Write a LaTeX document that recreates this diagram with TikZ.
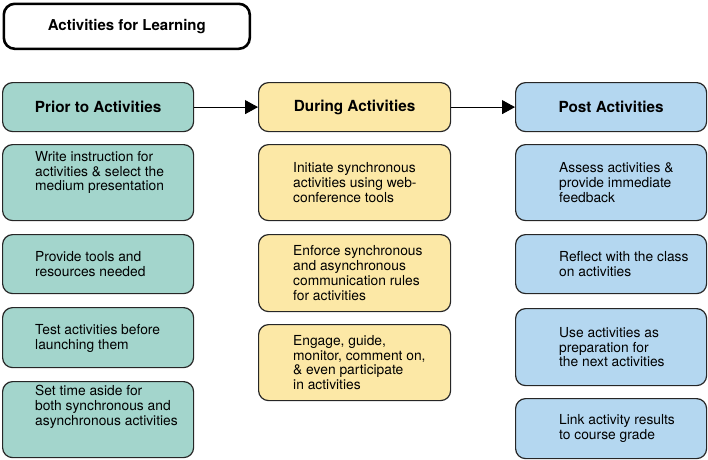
\documentclass[tikz,border=0pt]{standalone}
\usepackage{fontspec}
\setmainfont{TeX Gyre Heros}
\usetikzlibrary{arrows.meta}
\definecolor{tealc}{HTML}{A3D5CC}
\definecolor{yelc}{HTML}{FCE8A6}
\definecolor{bluec}{HTML}{B4D7F0}
\definecolor{edgec}{HTML}{262626}
\tikzset{
  cellbox/.style={draw=edgec, line width=1.2pt, rounded corners=10pt, inner sep=0pt, anchor=north west},
  headtxt/.style={font=\fontsize{15.3}{17}\selectfont\bfseries, text=black},
  bodytxt/.style={font=\fontsize{13.8}{14.8}\selectfont, align=left, inner sep=0pt, anchor=west, text=black},
  flow/.style={line width=0.9pt, -{Triangle[length=13pt,width=14pt]}},
}
\newcommand{\cell}[6]{% name, fill, x0, y0, x1, y1
  \node[cellbox, fill=#2, minimum width=#5pt-#3pt, minimum height=#6pt-#4pt] (#1) at (#3pt,-#4pt) {};}
\begin{document}
\begin{tikzpicture}[x=1pt,y=1pt]
\useasboundingbox (0,0) rectangle (708,-459);
% title
\node[draw=black, line width=2.6pt, rounded corners=11pt, minimum width=246pt, minimum height=45pt, anchor=north west, fill=white] (title) at (2.5,-2.5) {};
\node[headtxt, font=\fontsize{15}{17}\selectfont\bfseries] (titlet) at (title.center) {Activities for Learning};
% columns
\cell{p0}{tealc}{2}{82}{193}{131}
\cell{p1}{tealc}{2}{144}{193}{220}
\cell{p2}{tealc}{2}{234}{193}{293}
\cell{p3}{tealc}{2}{307}{193}{367}
\cell{p4}{tealc}{2}{381}{193}{457}
\cell{d0}{yelc}{258}{82}{450}{131}
\cell{d1}{yelc}{258}{144}{450}{220}
\cell{d2}{yelc}{258}{234}{450}{311}
\cell{d3}{yelc}{258}{324}{450}{400}
\cell{q0}{bluec}{515}{82}{706}{131}
\cell{q1}{bluec}{515}{144}{706}{220}
\cell{q2}{bluec}{515}{234}{706}{293}
\cell{q3}{bluec}{515}{308}{706}{385}
\cell{q4}{bluec}{515}{398}{706}{458}
% headers
\node[headtxt] (p0t) at (p0.center) {Prior to Activities};
\node[headtxt] (d0t) at (d0.center) {During Activities};
\node[headtxt] (q0t) at (q0.center) {Post Activities};
% body texts
\node[bodytxt] (p1t) at ([xshift=33pt,yshift=10pt]p1.west) {Write instruction for\\activities \& select the\\medium presentation};
\node[bodytxt] (p2t) at ([xshift=33pt]p2.west) {Provide tools and\\resources needed};
\node[bodytxt] (p3t) at ([xshift=33pt,yshift=-1pt]p3.west) {Test activities before\\launching them};
\node[bodytxt] (p4t) at ([xshift=33pt,yshift=13pt]p4.west) {Set time aside for\\both synchronous and\\asynchronous activities};
\node[bodytxt] (d1t) at ([xshift=35pt]d1.west) {Initiate synchronous\\activities using web-\\conference tools};
\node[bodytxt] (d2t) at ([xshift=35pt]d2.west) {Enforce synchronous\\and asynchronous\\communication rules\\for activities};
\node[bodytxt] (d3t) at ([xshift=35pt]d3.west) {Engage, guide,\\monitor, comment on,\\\& even participate\\in activities};
\node[bodytxt] (q1t) at ([xshift=44pt]q1.west) {Assess activities \&\\provide immediate\\feedback};
\node[bodytxt] (q2t) at ([xshift=44pt]q2.west) {Reflect with the class\\on activities};
\node[bodytxt] (q3t) at ([xshift=44pt]q3.west) {Use activities as\\preparation for\\the next activities};
\node[bodytxt] (q4t) at ([xshift=44pt]q4.west) {Link activity results\\to course grade};
% arrows
\draw[flow] (p0.east) -- (d0.west);
\draw[flow] (d0.east) -- (q0.west);
\end{tikzpicture}
\end{document}
